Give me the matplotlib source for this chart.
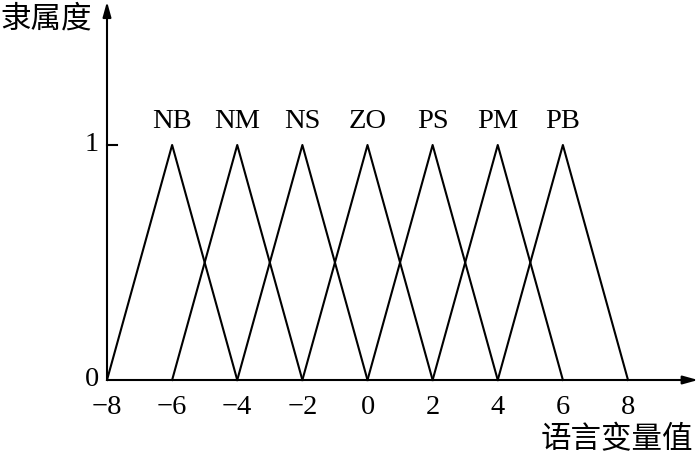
import numpy as np
import matplotlib
matplotlib.use("Agg")
import matplotlib.pyplot as plt

# membership function labels and their triangle (left, peak, right)
labels = ["NB", "NM", "NS", "ZO", "PS", "PM", "PB"]
peaks = [-6, -4, -2, 0, 2, 4, 6]
lefts = [-8, -6, -4, -2, 0, 2, 4]
rights = [-4, -2, 0, 2, 4, 6, 8]
xticks = [-8, -6, -4, -2, 0, 2, 4, 6, 8]

serif = ["Liberation Serif", "DejaVu Serif"]
cjk = ["Noto Sans CJK SC", "DejaVu Sans"]

fig = plt.figure(figsize=(7, 4.65), dpi=100)
ax = fig.add_axes([0, 0, 1, 1])
ax.set_xlim(-11.286, 10.211)
ax.set_ylim(-0.3617, 1.617)
ax.axis("off")

for lab, l, p, r in zip(labels, lefts, peaks, rights):
    ax.plot([l, p, r], [0, 1, 0], color="black", lw=1.5)
    ax.text(p, 1.045, lab, ha="center", va="bottom", fontsize=20.5, family=serif)

# axes with arrows
ax.annotate("", xy=(10.15, 0), xytext=(-8, 0),
            arrowprops=dict(arrowstyle="-|>,head_length=0.9,head_width=0.25",
                            color="black", lw=1.5, shrinkA=0, shrinkB=0))
ax.annotate("", xy=(-8, 1.61), xytext=(-8, 0),
            arrowprops=dict(arrowstyle="-|>,head_length=0.9,head_width=0.25",
                            color="black", lw=1.5, shrinkA=0, shrinkB=0))
ax.plot([-8, -7.7], [1, 1], color="black", lw=1.5)

for t in xticks:
    ax.text(t, -0.065, "\u2212%d" % -t if t < 0 else str(t), ha="center", va="top",
            fontsize=20.5, family=serif)
ax.text(-8.25, 0, "0", ha="right", va="center", fontsize=20.5, family=serif)
ax.text(-8.25, 1, "1", ha="right", va="center", fontsize=20.5, family=serif)

ax.text(-11.28, 1.535, "隶属度", ha="left", va="center", fontsize=22, family=cjk)
ax.text(10.0, -0.255, "语言变量值", ha="right", va="center", fontsize=22, family=cjk)

plt.savefig("out.png", dpi=100)
